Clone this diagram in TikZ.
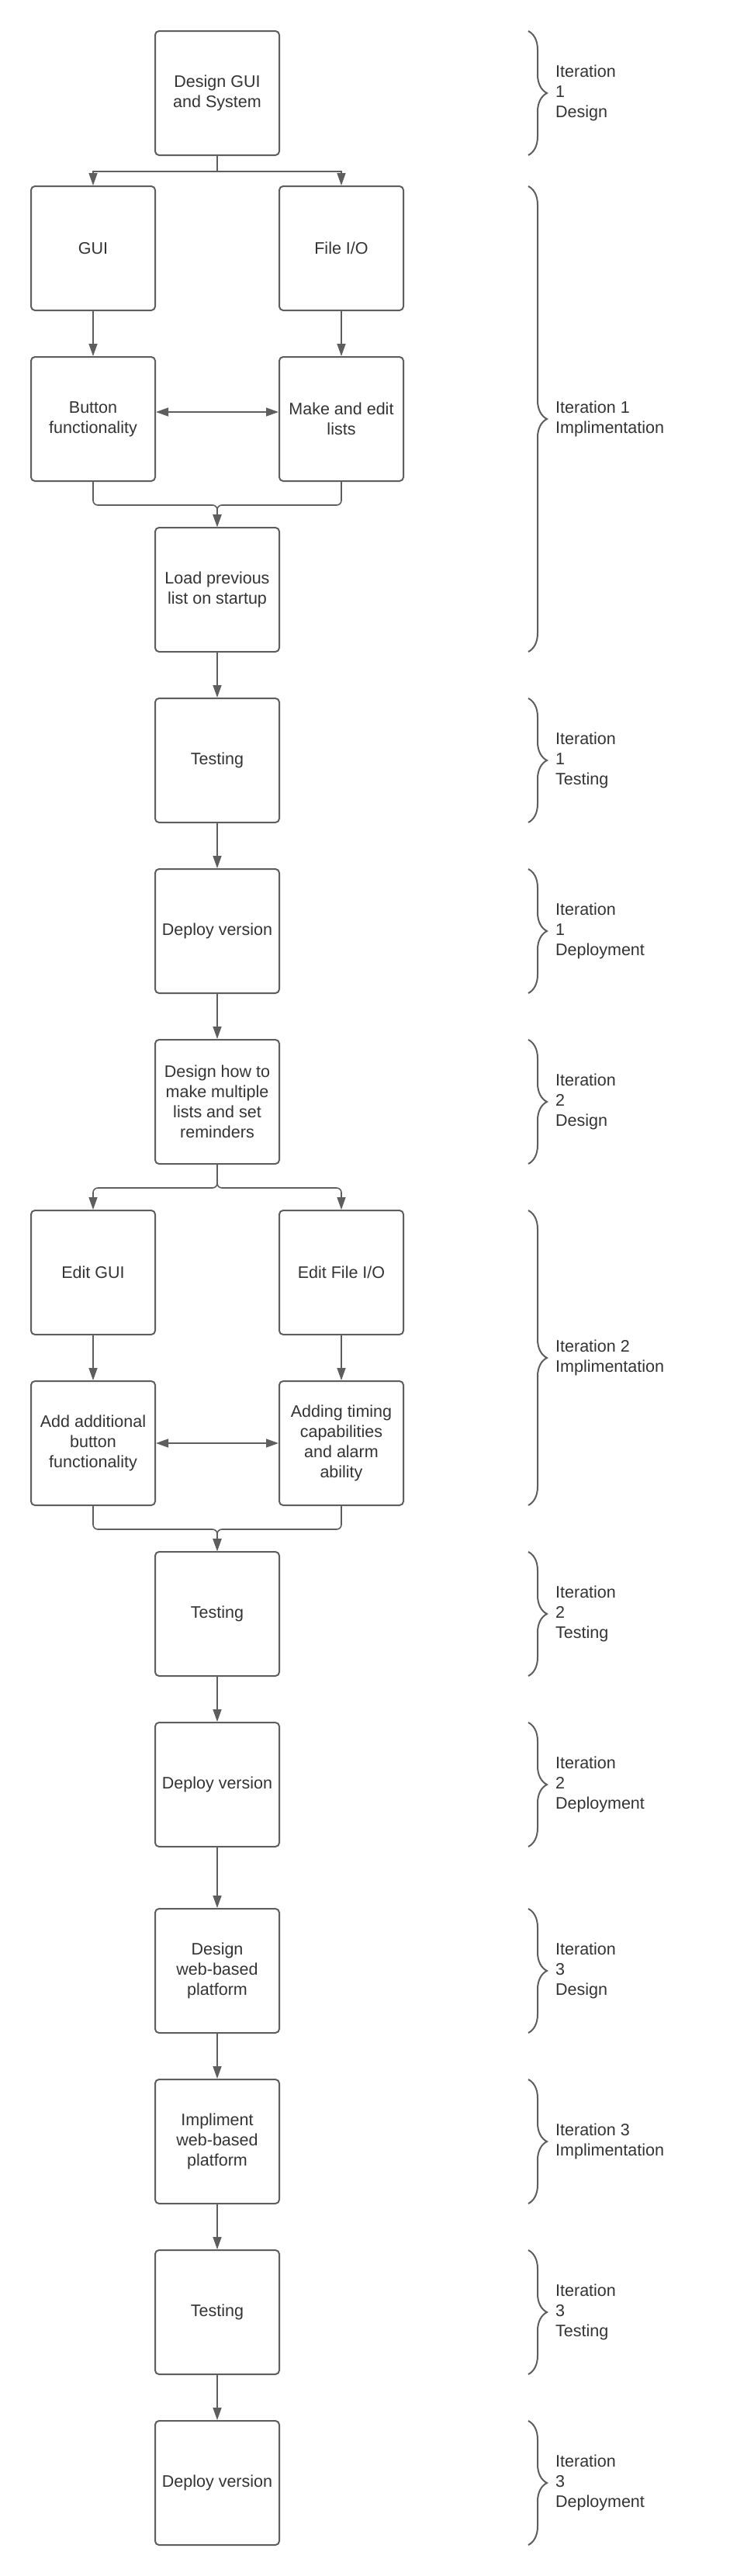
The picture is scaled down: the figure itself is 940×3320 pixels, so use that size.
\documentclass[tikz,border=0pt]{standalone}
\usepackage{fontspec}
\setmainfont{Liberation Sans}
\usetikzlibrary{arrows.meta,decorations.pathreplacing}
\definecolor{lineGray}{HTML}{5E5E5E}
\definecolor{textGray}{HTML}{333333}
\tikzset{
    >={Triangle[length=16pt,width=11pt]},
    stage/.style={draw=lineGray, line width=2pt, rounded corners=5pt, minimum width=160pt, minimum height=160pt,
        inner sep=0pt, align=center, text=textGray, font=\fontsize{21.5}{26}\selectfont},
    flow/.style={draw=lineGray, line width=1.6pt, ->},
    span/.style={draw=lineGray, line width=2pt, decorate, decoration={brace, amplitude=24pt}},
    phase/.style={anchor=west, align=left, inner sep=0pt, text=textGray, font=\fontsize{21.5}{26}\selectfont}
}
\begin{document}
\begin{tikzpicture}[x=1pt, y=-1pt]
    \useasboundingbox (0,0) rectangle (940,3320);
    \def\left{120}
    \def\mid{280}
    \def\right{440}
    % iteration 1
    \node[stage] (DesignGui) at (\mid,120) {Design GUI\\and System};
    \node[stage] (Gui) at (\left,320) {GUI};
    \node[stage] (FileIO) at (\right,320) {File I/O};
    \node[stage] (Button) at (\left,540) {Button\\functionality};
    \node[stage] (MakeLists) at (\right,540) {Make and edit\\lists};
    \node[stage] (LoadList) at (\mid,760) {Load previous\\list on startup};
    \node[stage] (TestOne) at (\mid,980) {Testing};
    \node[stage] (DeployOne) at (\mid,1200) {Deploy version};
    % iteration 2
    \node[stage] (DesignTwo) at (\mid,1420) {Design how to\\make multiple\\lists and set\\reminders};
    \node[stage] (EditGui) at (\left,1640) {Edit GUI};
    \node[stage] (EditFile) at (\right,1640) {Edit File I/O};
    \node[stage] (AddButton) at (\left,1860) {Add additional\\button\\functionality};
    \node[stage] (AddTiming) at (\right,1860) {Adding timing\\capabilities\\and alarm\\ability};
    \node[stage] (TestTwo) at (\mid,2080) {Testing};
    \node[stage] (DeployTwo) at (\mid,2300) {Deploy version};
    % iteration 3
    \node[stage] (DesignWeb) at (\mid,2540) {Design\\web-based\\platform};
    \node[stage] (ImplWeb) at (\mid,2760) {Impliment\\web-based\\platform};
    \node[stage] (TestThree) at (\mid,2980) {Testing};
    \node[stage] (DeployThree) at (\mid,3200) {Deploy version};

    \draw[flow] (DesignGui.south) -- ++(0,20) -| (Gui.north);
    \draw[flow] (DesignGui.south) -- ++(0,20) -| (FileIO.north);
    \draw[flow] (Gui) -- (Button);
    \draw[flow] (FileIO) -- (MakeLists);
    \draw[flow, <->] ([yshift=9pt]Button.east) -- ([yshift=9pt]MakeLists.west);
    \draw[flow, rounded corners=6pt] (Button.south) -- ++(0,30) -| (LoadList.north);
    \draw[flow, rounded corners=6pt] (MakeLists.south) -- ++(0,30) -| (LoadList.north);
    \draw[flow] (LoadList) -- (TestOne);
    \draw[flow] (TestOne) -- (DeployOne);
    \draw[flow] (DeployOne) -- (DesignTwo);
    \draw[flow, rounded corners=6pt] (DesignTwo.south) -- ++(0,30) -| (EditGui.north);
    \draw[flow, rounded corners=6pt] (DesignTwo.south) -- ++(0,30) -| (EditFile.north);
    \draw[flow] (EditGui) -- (AddButton);
    \draw[flow] (EditFile) -- (AddTiming);
    \draw[flow, <->] (AddButton) -- (AddTiming);
    \draw[flow, rounded corners=6pt] (AddButton.south) -- ++(0,30) -| (TestTwo.north);
    \draw[flow, rounded corners=6pt] (AddTiming.south) -- ++(0,30) -| (TestTwo.north);
    \draw[flow] (TestTwo) -- (DeployTwo);
    \draw[flow] (DeployTwo) -- (DesignWeb);
    \draw[flow] (DesignWeb) -- (ImplWeb);
    \draw[flow] (ImplWeb) -- (TestThree);
    \draw[flow] (TestThree) -- (DeployThree);

    % phase braces
    \foreach \ya/\yb/\lbl [count=\i] in {40/200/{Iteration\\1\\Design}, 240/840/{Iteration 1\\Implimentation},
        900/1060/{Iteration\\1\\Testing}, 1120/1280/{Iteration\\1\\Deployment},
        1340/1500/{Iteration\\2\\Design}, 1560/1940/{Iteration 2\\Implimentation},
        2000/2160/{Iteration\\2\\Testing}, 2220/2380/{Iteration\\2\\Deployment},
        2460/2620/{Iteration\\3\\Design}, 2680/2840/{Iteration 3\\Implimentation},
        2900/3060/{Iteration\\3\\Testing}, 3120/3280/{Iteration\\3\\Deployment}} {
        \draw[span] (681,\ya) -- (681,\yb);
        \node[phase] (Phase\i) at (716,{(\ya+\yb)/2}) {\lbl};
    }
\end{tikzpicture}
\end{document}
